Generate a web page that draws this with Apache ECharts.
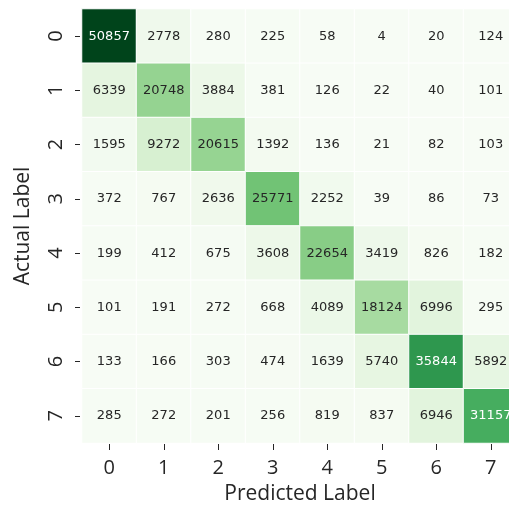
<!DOCTYPE html>
<html>
<head>
<meta charset="utf-8">
<script src="https://cdn.jsdelivr.net/npm/echarts@6/dist/echarts.min.js"></script>
<style>
  html, body { margin: 0; padding: 0; background: #ffffff; overflow: hidden; }
  #chart { width: 509px; height: 505px; }
</style>
</head>
<body>
<div id="chart"></div>
<script>
// Confusion matrix: rows = actual label, columns = predicted label
const predictedLabels = ['0', '1', '2', '3', '4', '5', '6', '7'];
const actualLabels = ['0', '1', '2', '3', '4', '5', '6', '7'];

const row0 = [50857, 2778, 280, 225, 58, 4, 20, 124];
const row1 = [6339, 20748, 3884, 381, 126, 22, 40, 101];
const row2 = [1595, 9272, 20615, 1392, 136, 21, 82, 103];
const row3 = [372, 767, 2636, 25771, 2252, 39, 86, 73];
const row4 = [199, 412, 675, 3608, 22654, 3419, 826, 182];
const row5 = [101, 191, 272, 668, 4089, 18124, 6996, 295];
const row6 = [133, 166, 303, 474, 1639, 5740, 35844, 5892];
const row7 = [285, 272, 201, 256, 819, 837, 6946, 31157];

const matrix = [row0, row1, row2, row3, row4, row5, row6, row7];

// "Greens" sequential palette
const greens = ['#f7fcf5', '#e5f5e0', '#c7e9c0', '#a1d99b', '#74c476',
                '#41ab5d', '#238b45', '#006d2c', '#00441b'];

const allValues = matrix.flat();
const vMin = Math.min(...allValues);
const vMax = Math.max(...allValues);

const data = [];
matrix.forEach((row, r) => {
  row.forEach((v, c) => data.push([c, r, v]));
});

function hexToRgb(h) {
  return [1, 3, 5].map(i => parseInt(h.slice(i, i + 2), 16) / 255);
}
function paletteColor(v) {
  const t = Math.max(0, Math.min(1, (v - vMin) / (vMax - vMin))) * (greens.length - 1);
  const i = Math.min(Math.floor(t), greens.length - 2);
  const f = t - i;
  const a = hexToRgb(greens[i]), b = hexToRgb(greens[i + 1]);
  return a.map((x, k) => x + (b[k] - x) * f);
}
// pick light text on dark cells, dark text on light cells
function textColor(v) {
  const lin = paletteColor(v).map(x => x <= 0.03928 ? x / 12.92 : Math.pow((x + 0.055) / 1.055, 2.4));
  const lum = 0.2126 * lin[0] + 0.7152 * lin[1] + 0.0722 * lin[2];
  return lum > 0.408 ? '#262626' : '#ffffff';
}

const chart = echarts.init(document.getElementById('chart'), null, { renderer: 'canvas' });

chart.setOption({
  animation: false,
  backgroundColor: '#ffffff',
  // the matrix runs slightly past the right edge of the canvas
  grid: { left: 82, top: 9, width: 436, height: 434, containLabel: false, outerBoundsMode: 'none' },
  xAxis: {
    type: 'category',
    data: predictedLabels,
    position: 'bottom',
    offset: 1,
    name: 'Predicted Label',
    nameLocation: 'middle',
    nameGap: 40,
    nameTextStyle: { fontFamily: 'Open Sans', fontSize: 21, color: '#262626' },
    axisLine: { show: false },
    axisTick: { show: true, alignWithLabel: true, length: 6, lineStyle: { color: '#262626', width: 1 } },
    axisLabel: { fontFamily: 'Open Sans', fontSize: 20, color: '#262626', margin: 14 },
    splitLine: { show: false }
  },
  yAxis: {
    type: 'category',
    data: actualLabels,
    inverse: true,
    offset: 2,
    name: 'Actual Label',
    nameLocation: 'middle',
    nameGap: 46,
    nameRotate: 90,
    nameTextStyle: { fontFamily: 'Open Sans', fontSize: 21, color: '#262626' },
    axisLine: { show: false },
    axisTick: { show: true, alignWithLabel: true, length: 5, lineStyle: { color: '#262626', width: 1 } },
    axisLabel: { fontFamily: 'Open Sans', fontSize: 20, color: '#262626', rotate: 90, margin: 14 },
    splitLine: { show: false }
  },
  visualMap: {
    show: false,
    type: 'continuous',
    min: vMin,
    max: vMax,
    dimension: 2,
    inRange: { color: greens }
  },
  series: [{
    type: 'heatmap',
    data: data.map(d => ({ value: d, label: { color: textColor(d[2]) } })),
    itemStyle: { borderColor: '#ffffff', borderWidth: 1 },
    label: {
      show: true,
      fontFamily: 'DejaVu Sans',
      fontSize: 13,
      formatter: p => String(p.value[2]),
      color: '#262626'
    }
  }]
});
</script>
</body>
</html>
